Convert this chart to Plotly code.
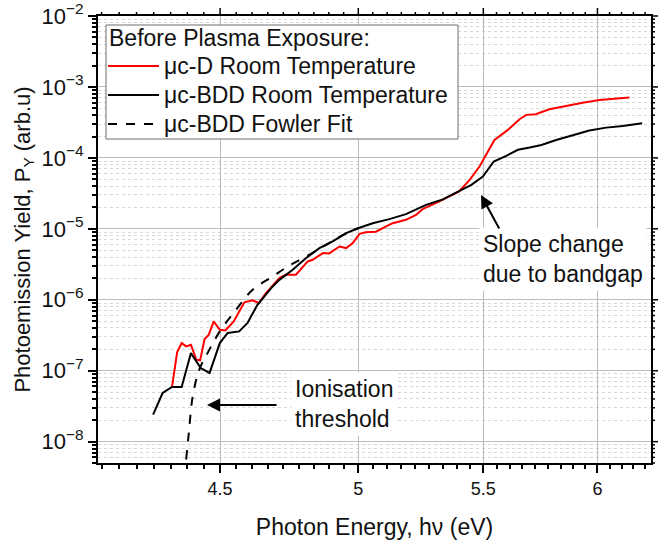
import numpy as np
import plotly.graph_objects as go

# ---- data ----
bdd_E = [4.276, 4.307, 4.338, 4.370, 4.401, 4.434, 4.464, 4.499, 4.526, 4.566, 4.595, 4.630,
         4.684, 4.708, 4.756, 4.805, 4.854, 4.903, 4.954, 4.999, 5.055, 5.120, 5.185, 5.225,
         5.265, 5.333, 5.399, 5.450, 5.498, 5.544, 5.597, 5.647, 5.698, 5.749, 5.814, 5.888,
         5.963, 6.040, 6.117, 6.208]
bdd_Y = [2.4e-8, 4.85e-8, 5.9e-8, 5.9e-8, 1.77e-7, 1.09e-7, 9.3e-8, 2.45e-7, 3.4e-7, 3.58e-7,
         4.7e-7, 8.5e-7, 1.54e-6, 1.91e-6, 2.65e-6, 3.87e-6, 5.35e-6, 6.64e-6, 8.7e-6, 1.02e-5,
         1.2e-5, 1.37e-5, 1.61e-5, 1.85e-5, 2.18e-5, 2.6e-5, 3.36e-5, 4.17e-5, 5.45e-5, 8.9e-5,
         1.07e-4, 1.30e-4, 1.40e-4, 1.52e-4, 1.79e-4, 2.11e-4, 2.43e-4, 2.67e-4, 2.82e-4, 3.08e-4]

d_E = [4.338, 4.355, 4.370, 4.385, 4.401, 4.419, 4.432, 4.447, 4.461, 4.478, 4.499, 4.518,
       4.547, 4.566, 4.584, 4.613, 4.635, 4.660, 4.708, 4.731, 4.768, 4.811, 4.829, 4.867,
       4.890, 4.929, 4.954, 4.979, 5.005, 5.028, 5.068, 5.107, 5.133, 5.185, 5.225, 5.251,
       5.292, 5.319, 5.399, 5.443, 5.484, 5.512, 5.547, 5.604, 5.654, 5.683, 5.724, 5.784,
       5.858, 5.933, 6.009, 6.086, 6.148]
d_Y = [5.9e-8, 1.81e-7, 2.45e-7, 2.2e-7, 2.32e-7, 1.43e-7, 1.4e-7, 2.8e-7, 3.2e-7, 4.95e-7,
       3.78e-7, 3.7e-7, 4.95e-7, 6.85e-7, 9.2e-7, 9.8e-7, 9.0e-7, 1.24e-6, 2.02e-6, 2.25e-6,
       2.25e-6, 3.47e-6, 3.66e-6, 4.55e-6, 4.5e-6, 5.64e-6, 5.35e-6, 6.28e-6, 8.5e-6, 8.97e-6,
       9.1e-6, 1.08e-5, 1.2e-5, 1.34e-5, 1.57e-5, 1.89e-5, 2.18e-5, 2.43e-5, 3.36e-5, 4.9e-5,
       7.55e-5, 1.10e-4, 1.79e-4, 2.48e-4, 3.51e-4, 4.04e-4, 4.12e-4, 4.85e-4, 5.46e-4, 6.0e-4,
       6.56e-4, 6.93e-4, 7.07e-4]

fit_E = [4.385, 4.394, 4.407, 4.429, 4.457, 4.499, 4.555, 4.613, 4.684, 4.738, 4.805, 4.890,
         4.954, 5.000]
fit_Y = [5.6e-9, 1.33e-8, 4.35e-8, 1.03e-7, 1.77e-7, 3.58e-7, 7.2e-7, 1.38e-6, 2.13e-6,
         2.94e-6, 4.07e-6, 6.28e-6, 8.6e-6, 1.02e-5]

series_names = ["\u03bcc-D Room Temperature", "\u03bcc-BDD Room Temperature",
                "\u03bcc-BDD Fowler Fit"]
legend_title = "Before Plasma Exposure:"

x_major = [4.5, 5.0, 5.5, 6.0]
x_labels = ["4.5", "5", "5.5", "6"]
y_major_exp = [-8, -7, -6, -5, -4, -3, -2]

FONT = "Liberation Sans, Arial, sans-serif"
TXT = "#111"
FS = 23

X_RANGE = [np.log10(4.1), np.log10(6.25)]
Y_RANGE = [np.log10(5e-9), -2]

# minor ticks: 8 per major interval on x (Origin style), 2..9 per decade on y
step = 0.5 / 9
x_minor = [4.5 - k * step for k in range(1, 8)]
for a in x_major:
    x_minor += [a + k * step for k in range(1, 9)]
x_minor = [v for v in x_minor if 4.1 < v < 6.25 and all(abs(v - m) > 1e-6 for m in x_major)]
y_major = [10.0 ** e for e in y_major_exp]
y_minor = [k * 10.0 ** n for n in range(-9, -2) for k in range(2, 10)]
y_minor = [v for v in y_minor if 5e-9 <= v <= 1e-2]

styles = [dict(color="#ff0000", width=2), dict(color="black", width=2),
          dict(color="black", width=2, dash="dash")]

fig = go.Figure()
fig.add_trace(go.Scatter(x=d_E, y=d_Y, mode="lines", name=series_names[0], line=styles[0]))
fig.add_trace(go.Scatter(x=bdd_E, y=bdd_Y, mode="lines", name=series_names[1], line=styles[1]))
fig.add_trace(go.Scatter(x=fit_E, y=fit_Y, mode="lines", name=series_names[2],
                         line=dict(styles[2], shape="spline")))

frame = dict(showline=True, linecolor="black", linewidth=2, ticks="outside",
             tickcolor="black", tickwidth=1.5, ticklen=8, mirror=True, automargin=False)

fig.update_layout(
    xaxis=dict(type="log", range=X_RANGE, tickvals=x_major, ticktext=x_labels,
               tickfont=dict(family=FONT, size=18, color=TXT),
               showgrid=True, gridcolor="#bdbdbd", gridwidth=1,
               minor=dict(tickvals=x_minor, ticks="outside", ticklen=4, tickcolor="black",
                          tickwidth=1.5, showgrid=False),
               title=dict(text="Photon Energy, h\u03bd (eV)",
                          font=dict(family=FONT, size=FS, color=TXT), standoff=21),
               **frame),
    yaxis=dict(type="log", range=Y_RANGE, tickvals=y_major,
               ticktext=["10<sup>\u2212%d</sup>" % (-e) for e in y_major_exp],
               tickfont=dict(family=FONT, size=22, color=TXT),
               showgrid=True, gridcolor="#bdbdbd", gridwidth=1,
               minor=dict(tickvals=y_minor, ticks="outside", ticklen=4, tickcolor="black",
                          tickwidth=1.5, showgrid=True, gridcolor="#d6d6d6", griddash="dot",
                          gridwidth=1),
               title=dict(text="Photoemission Yield, P<sub>Y</sub> (arb.u)",
                          font=dict(family=FONT, size=22, color=TXT), standoff=5),
               **frame),
)


def xpaper(v):
    return (np.log10(v) - X_RANGE[0]) / (X_RANGE[1] - X_RANGE[0])


def ypaper(v):
    return (np.log10(v) - Y_RANGE[0]) / (Y_RANGE[1] - Y_RANGE[0])


# ---- mirrored tick marks on the top and right frame edges ----
tick_line = dict(color="black", width=1.5)
for vals, ln in ((x_major, 8), (x_minor, 4)):
    for v in vals:
        xp = float(xpaper(v))
        fig.add_shape(type="line", xref="paper", yref="paper", ysizemode="pixel", yanchor=1,
                      x0=xp, x1=xp, y0=0, y1=ln, line=tick_line, layer="above")
for vals, ln in ((y_major, 8), (y_minor, 4)):
    for v in vals:
        yp = float(ypaper(v))
        fig.add_shape(type="line", xref="paper", yref="paper", xsizemode="pixel", xanchor=1,
                      y0=yp, y1=yp, x0=0, x1=ln, line=tick_line, layer="above")


def px2paper(px, py):
    return (px - 98) / 553.0, (463 - py) / 447.0


# ---- legend box (drawn like the Origin legend) ----
bx0, by0 = px2paper(106, 139)
bx1, by1 = px2paper(458, 25)
fig.add_shape(type="rect", xref="paper", yref="paper", x0=bx0, y0=by0, x1=bx1, y1=by1,
              fillcolor="white", line=dict(color="#6e6e6e", width=1), layer="above")
tx, ty = px2paper(107, 38)
fig.add_annotation(text=legend_title, xref="paper", yref="paper", x=tx, y=ty,
                   xanchor="left", yanchor="middle", showarrow=False,
                   font=dict(family=FONT, size=FS, color=TXT))
for i, (nm, st) in enumerate(zip(series_names, styles)):
    row_y = 66 + 29 * i
    lx0, ly = px2paper(108, row_y)
    lx1, _ = px2paper(159, row_y)
    fig.add_shape(type="line", xref="paper", yref="paper", x0=lx0, x1=lx1, y0=ly, y1=ly,
                  line=st, layer="above")
    ttx, tty = px2paper(162, row_y)
    fig.add_annotation(text=nm, xref="paper", yref="paper", x=ttx, y=tty,
                       xanchor="left", yanchor="middle", showarrow=False,
                       font=dict(family=FONT, size=FS, color=TXT))

# ---- annotations ----
ax_, ay_ = px2paper(479, 259)
fig.add_annotation(text="Slope change<br>due to bandgap", xref="paper", yref="paper",
                   x=ax_, y=ay_, xanchor="left", yanchor="middle", align="left",
                   showarrow=False, bgcolor="white", borderpad=3,
                   font=dict(family=FONT, size=FS, color=TXT))
hx, hy = px2paper(481, 195)
fig.add_annotation(text="", xref="paper", yref="paper", x=hx, y=hy,
                   ax=19, ay=35, showarrow=True, arrowhead=2, arrowsize=1.3,
                   arrowwidth=2, arrowcolor="black")
ix, iy = px2paper(291, 404)
fig.add_annotation(text="Ionisation<br>threshold", xref="paper", yref="paper",
                   x=ix, y=iy, xanchor="left", yanchor="middle", align="left",
                   showarrow=False, bgcolor="white", borderpad=3,
                   font=dict(family=FONT, size=FS, color=TXT))
hx2, hy2 = px2paper(207, 405)
fig.add_annotation(text="", xref="paper", yref="paper", x=hx2, y=hy2,
                   ax=71, ay=0, showarrow=True, arrowhead=2, arrowsize=1.3,
                   arrowwidth=2, arrowcolor="black")

fig.update_layout(
    width=658, height=541,
    margin=dict(l=98, r=7, t=16, b=78),
    paper_bgcolor="white", plot_bgcolor="white",
    font=dict(family=FONT, size=FS, color=TXT),
    showlegend=False,
)

fig.write_html("out.html")
